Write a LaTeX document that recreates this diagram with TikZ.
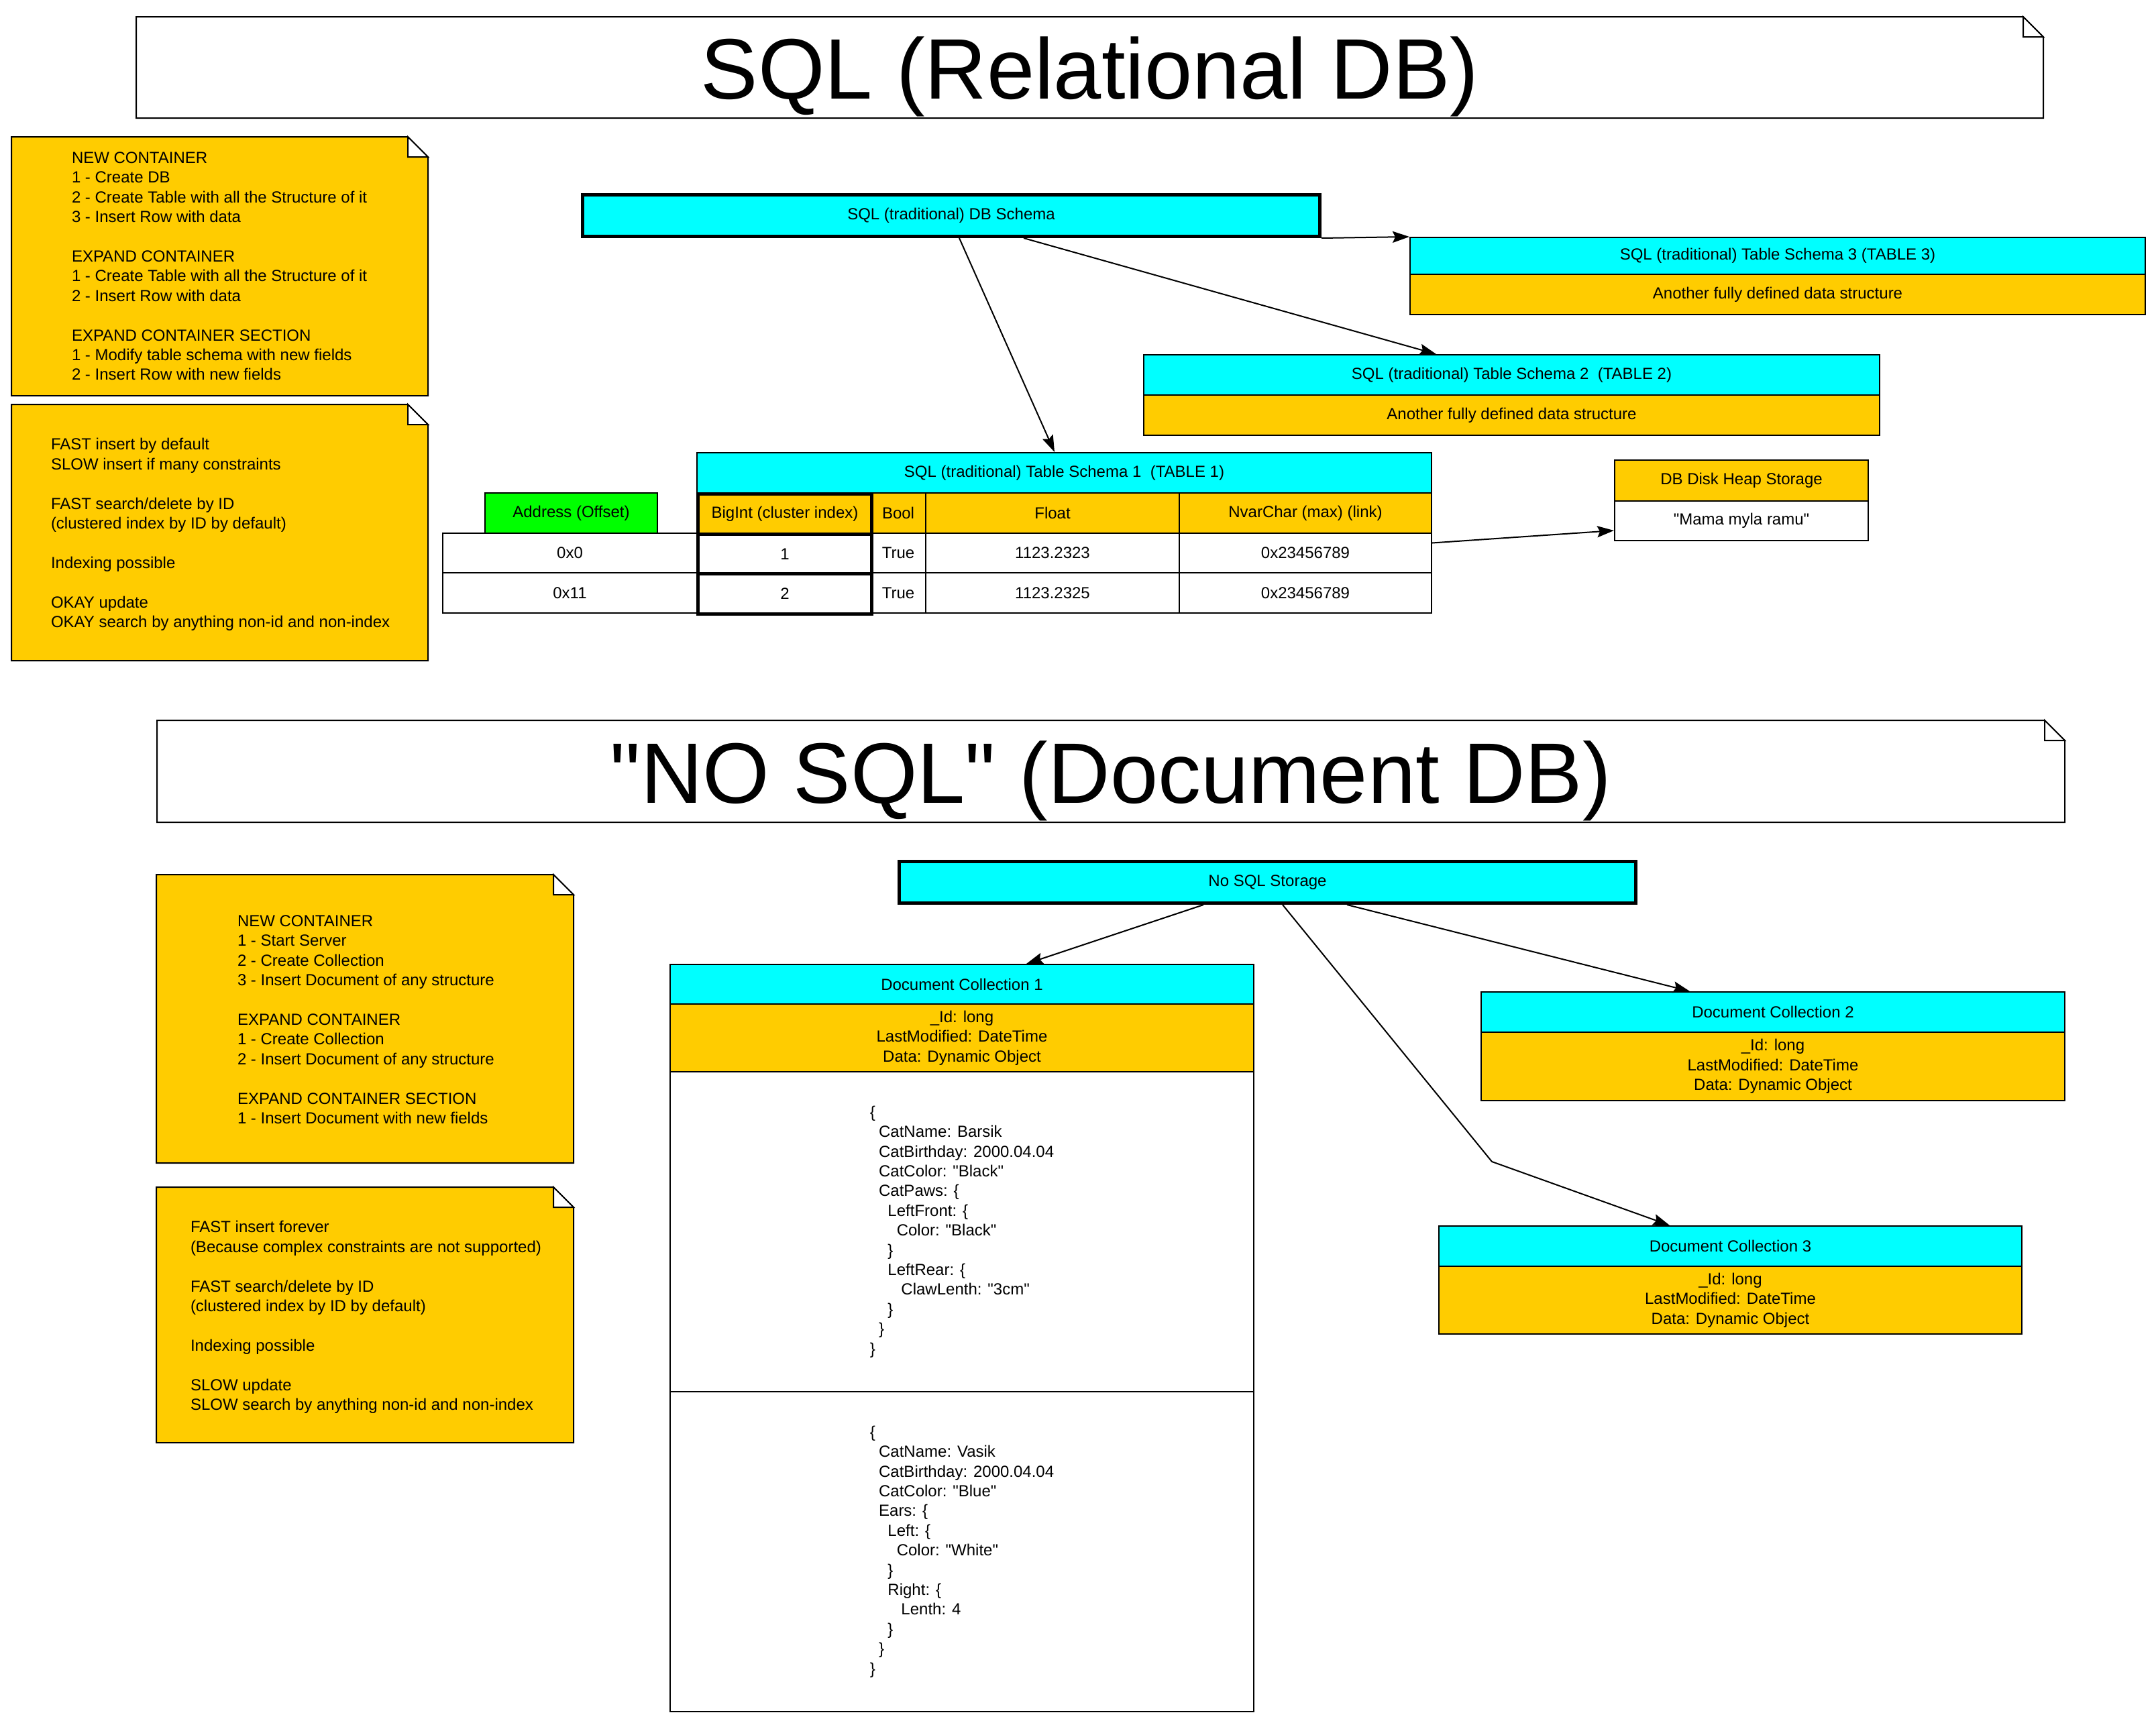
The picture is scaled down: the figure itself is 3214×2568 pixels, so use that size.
\documentclass[tikz,border=0pt]{standalone}
\usepackage{fontspec}
\setmainfont{Liberation Sans}
\usetikzlibrary{arrows.meta}
\definecolor{cyanbox}{HTML}{00FFFF}
\definecolor{orangebox}{HTML}{FFCC00}
\definecolor{greenbox}{HTML}{00FF00}
\newcommand\ind[1]{\hspace*{\dimexpr #1\fontdimen2\font\relax}}
\newcommand\q{\textquotedbl}
\newcommand\dogear[2]{%
  \draw[fill=#2] (#1.north west) -- ([xshift=-30pt]#1.north east) -- ([yshift=-30pt]#1.north east) -- (#1.south east) -- (#1.south west) -- cycle;
  \draw[fill=white] ([xshift=-30pt]#1.north east) -- ([xshift=-30pt,yshift=-30pt]#1.north east) -- ([yshift=-30pt]#1.north east) -- cycle;}
\begin{document}
\begin{tikzpicture}[x=1pt,y=-1pt,line width=2pt,
  txt/.style={font=\fontsize{24pt}{29.4pt}\selectfont},
  cell/.style={txt, draw, inner sep=0pt, anchor=north west, align=center},
  thickcell/.style={cell, line width=5pt},
  frame/.style={inner sep=0pt, anchor=north west},
  notetext/.style={txt, inner sep=0pt, anchor=north west, align=left},
  json/.style={txt, inner sep=0pt, align=left},
  titletext/.style={font=\fontsize{128pt}{150pt}\selectfont, inner sep=0pt},
  conn/.style={-{Stealth[length=25pt,width=17pt,inset=4pt]}, line width=2pt},
]
\useasboundingbox[fill=white] (0,0) rectangle (3214,2568);

% ---------------- SQL section ----------------
\node[frame, minimum width=2841pt, minimum height=149pt] (title1) at (203,25) {};
\dogear{title1}{white}
\node[titletext] (title1txt) at ([yshift=-14pt]title1.center) {SQL (Relational DB)};

\node[frame, minimum width=619pt, minimum height=384pt] (n1) at (17,204) {};
\dogear{n1}{orangebox}
\node[notetext] (n1t) at (106,225.8) {NEW CONTAINER\\1 - Create DB\\2 - Create Table with all the Structure of it\\3 - Insert Row with data\\~\\EXPAND CONTAINER\\1 - Create Table with all the Structure of it\\2 - Insert Row with data\\~\\EXPAND CONTAINER SECTION\\1 - Modify table schema with new fields\\2 - Insert Row with new fields};

\node[frame, minimum width=619pt, minimum height=380pt] (n2) at (17,603) {};
\dogear{n2}{orangebox}
\node[notetext] (n2t) at (75,652.5) {FAST insert by default\\SLOW insert if many constraints\\~\\FAST search/delete by ID\\(clustered index by ID by default)\\~\\Indexing possible\\~\\OKAY update\\OKAY search by anything non-id and non-index};

\node[thickcell, fill=cyanbox, minimum width=1099pt, minimum height=62pt] (dbs) at (866,288) {SQL (traditional) DB Schema};

\node[cell, fill=cyanbox, minimum width=1096pt, minimum height=55pt] (t3h) at (2101,353) {SQL (traditional) Table Schema 3 (TABLE 3)};
\node[cell, fill=orangebox, minimum width=1096pt, minimum height=60pt] (t3b) at (2101,408) {Another fully defined data structure};

\node[cell, fill=cyanbox, minimum width=1097pt, minimum height=60pt] (t2h) at (1704,528) {SQL (traditional) Table Schema 2\ \ (TABLE 2)};
\node[cell, fill=orangebox, minimum width=1097pt, minimum height=60pt] (t2b) at (1704,588) {Another fully defined data structure};

\node[cell, fill=cyanbox, minimum width=1095pt, minimum height=60pt] (t1h) at (1038,674) {SQL (traditional) Table Schema 1\ \ (TABLE 1)};

% header row
\node[cell, fill=greenbox, minimum width=257pt, minimum height=60pt] (a0) at (722,734) {Address (Offset)};
\node[cell, fill=orangebox, minimum width=82pt, minimum height=60pt] (c0) at (1297,734) {Bool};
\node[cell, fill=orangebox, minimum width=378pt, minimum height=60pt] (d0) at (1379,734) {Float};
\node[cell, fill=orangebox, minimum width=376pt, minimum height=60pt] (e0) at (1757,734) {NvarChar (max) (link)};
% row 1
\node[cell, fill=white, minimum width=379pt, minimum height=59pt] (a1) at (659,794) {0x0};
\node[cell, fill=white, minimum width=82pt, minimum height=59pt] (c1) at (1297,794) {True};
\node[cell, fill=white, minimum width=378pt, minimum height=59pt] (d1) at (1379,794) {1123.2323};
\node[cell, fill=white, minimum width=376pt, minimum height=59pt] (e1) at (1757,794) {0x23456789};
% row 2
\node[cell, fill=white, minimum width=379pt, minimum height=60pt] (a2) at (659,853) {0x11};
\node[cell, fill=white, minimum width=82pt, minimum height=60pt] (c2) at (1297,853) {True};
\node[cell, fill=white, minimum width=378pt, minimum height=60pt] (d2) at (1379,853) {1123.2325};
\node[cell, fill=white, minimum width=376pt, minimum height=60pt] (e2) at (1757,853) {0x23456789};
% BigInt column (thick)
\node[thickcell, fill=orangebox, minimum width=259pt, minimum height=60pt] (b0) at (1038,734) {BigInt (cluster index)};
\node[thickcell, fill=white, minimum width=259pt, minimum height=59pt] (b1) at (1038,794) {1};
\node[thickcell, fill=white, minimum width=259pt, minimum height=60pt] (b2) at (1038,853) {2};

\node[cell, fill=orangebox, minimum width=378pt, minimum height=61pt] (dhh) at (2406,685) {DB Disk Heap Storage};
\node[cell, fill=white, minimum width=378pt, minimum height=59pt] (dhb) at (2406,746) {\q Mama myla ramu\q};

\draw[conn] (dbs.south east) -- (t3h.north west);
\draw[conn] ([xshift=660pt]dbs.south west) -- ([xshift=437pt]t2h.north west);
\draw[conn] ([xshift=564pt]dbs.south west) -- ([xshift=534pt]t1h.north west);
\draw[conn] ([yshift=15pt]e1.east) -- ([yshift=-14.5pt]dhb.west);

% ---------------- NoSQL section ----------------
\node[frame, minimum width=2842pt, minimum height=150pt] (title2) at (234,1074) {};
\dogear{title2}{white}
\node[titletext] (title2txt) at ([yshift=-14pt]title2.center) {\q NO SQL\q{} (Document DB)};

\node[frame, minimum width=620pt, minimum height=428pt] (n3) at (233,1304) {};
\dogear{n3}{orangebox}
\node[notetext] (n3t) at (353,1363.8) {NEW CONTAINER\\1 - Start Server\\2 - Create Collection\\3 - Insert Document of any structure\\~\\EXPAND CONTAINER\\1 - Create Collection\\2 - Insert Document of any structure\\~\\EXPAND CONTAINER SECTION\\1 - Insert Document with new fields};

\node[frame, minimum width=620pt, minimum height=379pt] (n4) at (233,1770) {};
\dogear{n4}{orangebox}
\node[notetext] (n4t) at (283,1819.5) {FAST insert forever\\(Because complex constraints are not supported)\\~\\FAST search/delete by ID\\(clustered index by ID by default)\\~\\Indexing possible\\~\\SLOW update\\SLOW search by anything non-id and non-index};

\node[thickcell, fill=cyanbox, minimum width=1098pt, minimum height=62pt] (nss) at (1338,1282) {No SQL Storage};

\node[cell, fill=cyanbox, minimum width=870pt, minimum height=59pt] (col1h) at (998,1437) {Document Collection 1};
\node[cell, fill=orangebox, minimum width=870pt, minimum height=101pt] (col1b) at (998,1496) {\_Id: long\\LastModified: DateTime\\Data: Dynamic Object};
\node[cell, fill=white, minimum width=870pt, minimum height=477pt] (doc1) at (998,1597) {};
\node[cell, fill=white, minimum width=870pt, minimum height=477pt] (doc2) at (998,2074) {};
\node[json] (doc1t) at (doc1.center) {\{\\\ind{2}CatName: Barsik\\\ind{2}CatBirthday: 2000.04.04\\\ind{2}CatColor: \q Black\q\\\ind{2}CatPaws: \{\\\ind{4}LeftFront: \{\\\ind{6}Color: \q Black\q\\\ind{4}\}\\\ind{4}LeftRear: \{\\\ind{7}ClawLenth: \q 3cm\q\\\ind{4}\}\\\ind{2}\}\\\}};
\node[json] (doc2t) at (doc2.center) {\{\\\ind{2}CatName: Vasik\\\ind{2}CatBirthday: 2000.04.04\\\ind{2}CatColor: \q Blue\q\\\ind{2}Ears: \{\\\ind{4}Left: \{\\\ind{6}Color: \q White\q\\\ind{4}\}\\\ind{4}Right: \{\\\ind{7}Lenth: 4\\\ind{4}\}\\\ind{2}\}\\\}};

\node[cell, fill=cyanbox, minimum width=870pt, minimum height=60pt] (col2h) at (2207,1478) {Document Collection 2};
\node[cell, fill=orangebox, minimum width=870pt, minimum height=102pt] (col2b) at (2207,1538) {\_Id: long\\LastModified: DateTime\\Data: Dynamic Object};

\node[cell, fill=cyanbox, minimum width=869pt, minimum height=60pt] (col3h) at (2144,1827) {Document Collection 3};
\node[cell, fill=orangebox, minimum width=869pt, minimum height=101pt] (col3b) at (2144,1887) {\_Id: long\\LastModified: DateTime\\Data: Dynamic Object};

\coordinate (bend3) at (2224,1732);
\draw[conn] ([xshift=456pt]nss.south west) -- ([xshift=532pt]col1h.north west);
\draw[conn] ([xshift=670pt]nss.south west) -- ([xshift=312pt]col2h.north west);
\draw[conn] ([xshift=574pt]nss.south west) -- (bend3) -- ([xshift=345pt]col3h.north west);
\end{tikzpicture}
\end{document}
